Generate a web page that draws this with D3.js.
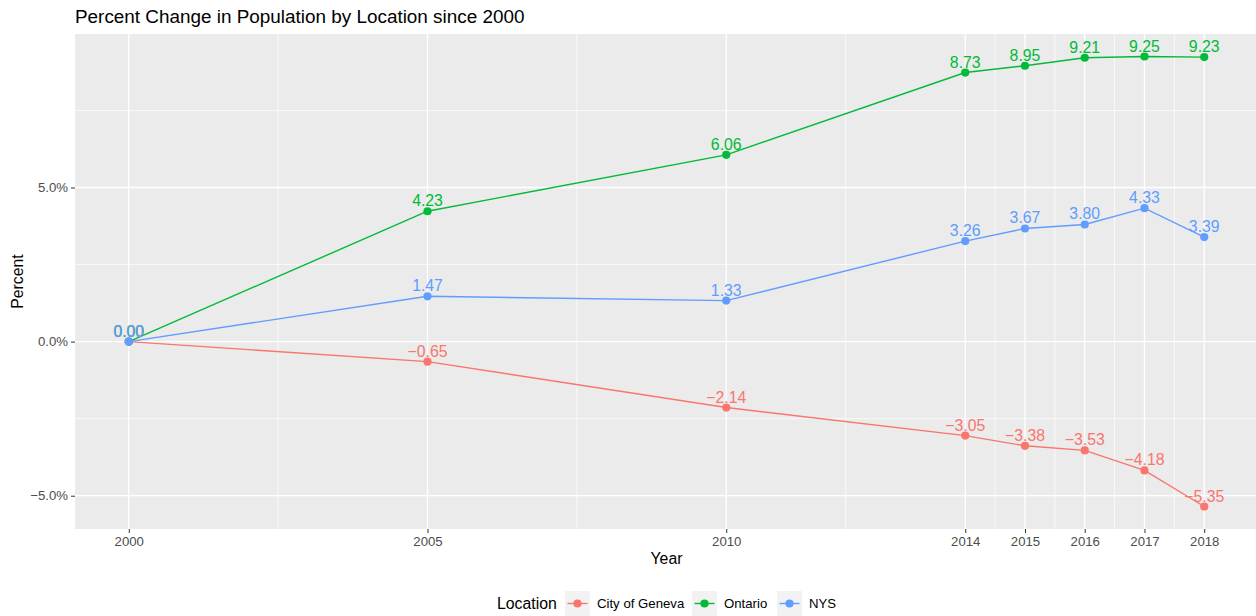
<!DOCTYPE html>
<html>
<head>
<meta charset="utf-8">
<script src="https://cdn.jsdelivr.net/npm/d3@7"></script>
<style>
  body { margin: 0; background: #fff; }
  svg { display: block; font-family: "Liberation Sans", Arial, sans-serif; }
</style>
</head>
<body>
<svg id="chart" width="1256" height="616"></svg>
<script>
// data (percent change since 2000)
var years = [2000, 2005, 2010, 2014, 2015, 2016, 2017, 2018];
var minorYears = [2002.5, 2007.5, 2012, 2014.5, 2015.5, 2016.5, 2017.5];
var locations = ["City of Geneva", "Ontario", "NYS"];
var geneva = [0, -0.65, -2.14, -3.05, -3.38, -3.53, -4.18, -5.35];
var ontario = [0, 4.23, 6.06, 8.73, 8.95, 9.21, 9.25, 9.23];
var nys = [0, 1.47, 1.33, 3.26, 3.67, 3.80, 4.33, 3.39];
var yTicks = [-5, 0, 5];
var yMinor = [-2.5, 2.5, 7.5];
var colors = ["#F8766D", "#00BA38", "#619CFF"];

var series = [geneva, ontario, nys].map(function (vals, i) {
  return { name: locations[i], color: colors[i],
           pts: vals.map(function (v, j) { return { year: years[j], value: v }; }) };
});

var svg = d3.select('#chart');
var pLeft = 75, pRight = 1258, pTop = 34, pBottom = 529;

// ggplot-style 5% expansion of the data range
var xExt = d3.extent(years), xPad = (xExt[1] - xExt[0]) * 0.05;
var allVals = geneva.concat(ontario, nys);
var yExt = d3.extent(allVals), yPad = (yExt[1] - yExt[0]) * 0.05;

var x = d3.scaleLinear().domain([xExt[0] - xPad, xExt[1] + xPad]).range([pLeft, pRight]);
var y = d3.scaleLinear().domain([yExt[0] - yPad, yExt[1] + yPad]).range([pBottom, pTop]);

// panel
svg.append('rect').attr('x', pLeft).attr('y', pTop)
  .attr('width', pRight - pLeft).attr('height', pBottom - pTop).attr('fill', '#EBEBEB');

var grid = svg.append('g');
grid.selectAll('.ymin').data(yMinor).enter().append('line')
  .attr('x1', pLeft).attr('x2', pRight).attr('y1', y).attr('y2', y)
  .attr('stroke', '#fff').attr('stroke-width', 0.7);
grid.selectAll('.xmin').data(minorYears).enter().append('line')
  .attr('y1', pTop).attr('y2', pBottom).attr('x1', x).attr('x2', x)
  .attr('stroke', '#fff').attr('stroke-width', 0.7);
grid.selectAll('.ymaj').data(yTicks).enter().append('line')
  .attr('x1', pLeft).attr('x2', pRight).attr('y1', y).attr('y2', y)
  .attr('stroke', '#fff').attr('stroke-width', 1.3);
grid.selectAll('.xmaj').data(years).enter().append('line')
  .attr('y1', pTop).attr('y2', pBottom).attr('x1', x).attr('x2', x)
  .attr('stroke', '#fff').attr('stroke-width', 1.3);

// axes
var xAxis = svg.append('g').attr('transform', 'translate(0,' + pBottom + ')')
  .call(d3.axisBottom(x).tickValues(years).tickFormat(d3.format('d')).tickSize(4).tickPadding(4));
var yAxis = svg.append('g').attr('transform', 'translate(' + pLeft + ',0)')
  .call(d3.axisLeft(y).tickValues(yTicks)
    .tickFormat(function (d) { return d3.format('.1f')(d).replace('-', '\u2212') + '%'; })
    .tickSize(4).tickPadding(3));
[xAxis, yAxis].forEach(function (a) {
  a.select('.domain').remove();
  a.selectAll('.tick line').attr('stroke', '#333').attr('stroke-width', 1);
  a.selectAll('.tick text').attr('fill', '#4D4D4D').style('font-size', '13.2px')
    .style('font-family', '"Liberation Sans", Arial, sans-serif');
});
xAxis.selectAll('.tick text').attr('dy', null).attr('y', 17);

// lines, points, labels
var line = d3.line().x(function (d) { return x(d.year); }).y(function (d) { return y(d.value); });
var fmt = d3.format('.2f');

series.forEach(function (s) {
  svg.append('path').datum(s.pts).attr('d', line)
    .attr('fill', 'none').attr('stroke', s.color).attr('stroke-width', 1.4);
  svg.append('g').selectAll('circle').data(s.pts).enter().append('circle')
    .attr('cx', function (d) { return x(d.year); })
    .attr('cy', function (d) { return y(d.value); })
    .attr('r', 4.1).attr('fill', s.color);
});
series.forEach(function (s) {
  svg.append('g').selectAll('text').data(s.pts).enter().append('text')
    .attr('x', function (d) { return x(d.year); })
    .attr('y', function (d) { return y(d.value) - 5; })
    .attr('text-anchor', 'middle').attr('fill', s.color)
    .style('font-size', '15.8px')
    .text(function (d) { return fmt(d.value).replace('-', '\u2212'); });
});

// titles
svg.append('text').attr('x', pLeft).attr('y', 23).style('font-size', '18.9px')
  .attr('fill', '#000').text('Percent Change in Population by Location since 2000');
svg.append('text').attr('x', (pLeft + pRight) / 2).attr('y', 564).attr('text-anchor', 'middle')
  .style('font-size', '15.8px').text('Year');
svg.append('text').attr('transform', 'translate(23,' + (pTop + pBottom) / 2 + ') rotate(-90)')
  .attr('text-anchor', 'middle').style('font-size', '15.8px').text('Percent');

// legend
var legend = svg.append('g').attr('transform', 'translate(0,603.5)');
legend.append('text').attr('x', 497).attr('y', 5.5).style('font-size', '15.8px').text('Location');
var keyX = [565, 692, 777];
series.forEach(function (s, i) {
  var g = legend.append('g').attr('transform', 'translate(' + keyX[i] + ',0)');
  g.append('rect').attr('x', 0).attr('y', -12.5).attr('width', 25).attr('height', 25).attr('fill', '#F2F2F2');
  g.append('line').attr('x1', 2.5).attr('x2', 22.5).attr('y1', 0).attr('y2', 0)
    .attr('stroke', s.color).attr('stroke-width', 1.4);
  g.append('circle').attr('cx', 12.5).attr('cy', 0).attr('r', 4.1).attr('fill', s.color);
  g.append('text').attr('x', 32).attr('y', 4.7).style('font-size', '13.2px').attr('fill', '#000').text(s.name);
});
</script>
</body>
</html>
